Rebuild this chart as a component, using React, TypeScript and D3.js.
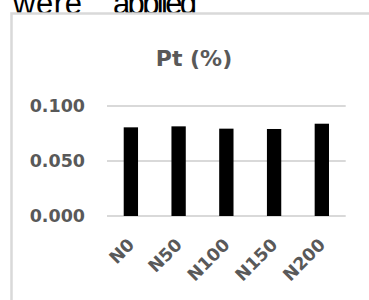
import React, { useEffect, useRef } from "react";
import * as d3 from "d3";

// treatments and Pt values
const categories = ["N0", "N50", "N100", "N150", "N200"];
const ptValues = [0.0806, 0.0815, 0.0794, 0.0791, 0.0839];
const yTicks = [0, 0.05, 0.1];

const App = () => {
    const svgRef = useRef<SVGSVGElement>(null);

    useEffect(() => {
        const width = 369;
        const height = 300;
        const svg = d3.select(svgRef.current);
        svg.selectAll("*").remove();

        const grey = "#595959";
        const gridColor = "#d9d9d9";
        const font = "'DejaVu Sans', sans-serif";

        // leftover caption text above the chart image
        svg.append("text")
            .attr("x", 13)
            .attr("y", 14)
            .attr("font-family", "'Liberation Sans', Arial, sans-serif")
            .attr("font-size", 31)
            .attr("fill", "#000")
            .attr("textLength", 69)
            .text("were");
        svg.append("text")
            .attr("x", 113)
            .attr("y", 14)
            .attr("font-family", "'Liberation Sans', Arial, sans-serif")
            .attr("font-size", 31)
            .attr("fill", "#000")
            .attr("textLength", 84)
            .text("applied");

        // chart area box (runs past the picture edges)
        svg.append("rect")
            .attr("x", 11.5)
            .attr("y", 13.5)
            .attr("width", width + 20)
            .attr("height", height + 20)
            .attr("fill", "#fff")
            .attr("stroke", gridColor)
            .attr("stroke-width", 2.5);

        svg.append("text")
            .attr("x", 194)
            .attr("y", 66)
            .attr("text-anchor", "middle")
            .attr("font-family", font)
            .attr("font-weight", "bold")
            .attr("font-size", 22)
            .attr("fill", grey)
            .text("Pt (%)");

        const x = d3.scaleBand()
            .domain(categories)
            .range([107, 345.7])
            .paddingInner(0.7)
            .paddingOuter(0.35);
        const y = d3.scaleLinear().domain([0, 0.1]).range([216, 106]);

        // gridlines
        svg.append("g")
            .selectAll("line")
            .data(yTicks)
            .join("line")
            .attr("x1", 107)
            .attr("x2", 345.7)
            .attr("y1", (d) => y(d))
            .attr("y2", (d) => y(d))
            .attr("stroke", gridColor)
            .attr("stroke-width", 2);

        svg.append("g")
            .selectAll("text")
            .data(yTicks)
            .join("text")
            .attr("x", 85)
            .attr("y", (d) => y(d))
            .attr("dy", "0.36em")
            .attr("text-anchor", "end")
            .attr("font-family", font)
            .attr("font-weight", "bold")
            .attr("font-size", 17.5)
            .attr("fill", grey)
            .text((d) => d3.format(".3f")(d));

        svg.append("g")
            .selectAll("rect")
            .data(categories)
            .join("rect")
            .attr("x", (d) => x(d)!)
            .attr("width", x.bandwidth())
            .attr("y", (d, i) => y(ptValues[i]))
            .attr("height", (d, i) => y(0) - y(ptValues[i]))
            .attr("fill", "#000");

        // slanted category labels
        svg.append("g")
            .selectAll("text")
            .data(categories)
            .join("text")
            .attr("transform", (d) => `translate(${x(d)! + x.bandwidth() / 2 + 4.5},246) rotate(-45)`)
            .attr("text-anchor", "end")
            .attr("font-family", font)
            .attr("font-weight", "bold")
            .attr("font-size", 17.5)
            .attr("fill", grey)
            .text((d) => d);
    }, []);

    return (
        <svg
            ref={svgRef}
            width={369}
            height={300}
            style={{ position: "absolute", left: 0, top: 0, background: "#fff" }}
        ></svg>
    );
};

export default App;
